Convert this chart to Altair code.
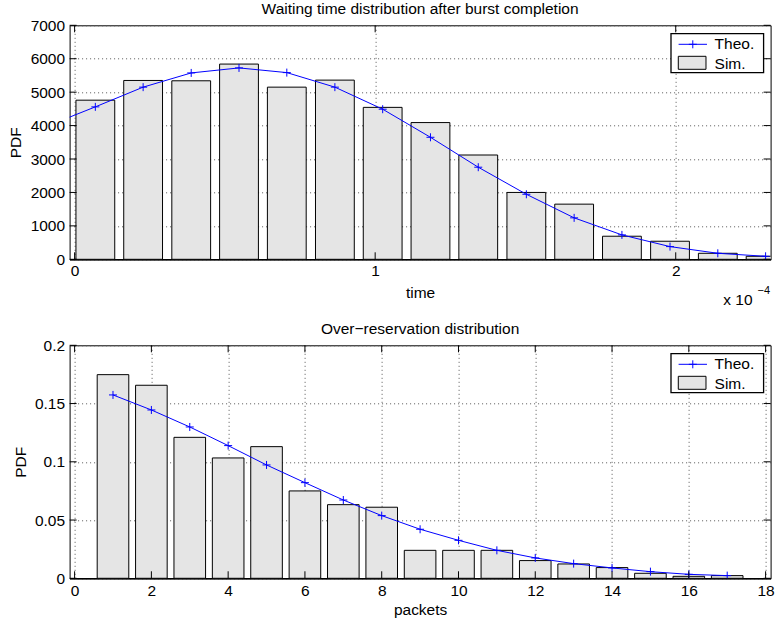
import altair as alt
import pandas as pd

FONT = "Liberation Sans"
FS = 15.5
BLUE = "#0000ff"
BAR_FILL = "#e5e5e5"
PLUS = "M-1,0L1,0M0,-1L0,1"

# ---------------- panel 1 : waiting time ----------------
wait_title = ["Waiting time distribution after burst completion"]
wait_xlabel = "time"
wait_ylabel = "PDF"
wait_bin_centers = [0.069e-4, 0.228e-4, 0.388e-4, 0.547e-4, 0.706e-4, 0.866e-4,
                    1.025e-4, 1.184e-4, 1.343e-4, 1.503e-4, 1.662e-4, 1.821e-4,
                    1.981e-4, 2.140e-4, 2.299e-4]
wait_sim = [4760, 5350, 5340, 5840, 5150, 5360, 4545, 4090, 3120, 2000,
            1650, 690, 540, 180, 90]
wait_theo_x = [-0.090e-4] + wait_bin_centers
wait_theo = [3990, 4560, 5150, 5575, 5725, 5585, 5150, 4490, 3650, 2755,
             1945, 1240, 730, 380, 180, 90]
wait_xdomain = [0, 2.299e-4]
wait_ydomain = [0, 7000]
wait_xticks = [0, 1e-4, 2e-4]
wait_yticks = [0, 1000, 2000, 3000, 4000, 5000, 6000, 7000]
wait_exp_base = ["x 10"]
wait_exp = ["\u22124"]

# ---------------- panel 2 : over-reservation ----------------
res_title = ["Over\u2212reservation distribution"]
res_xlabel = "packets"
res_ylabel = "PDF"
res_packets = [1, 2, 3, 4, 5, 6, 7, 8, 9, 10, 11, 12, 13, 14, 15, 16, 17]
res_sim = [0.1748, 0.1657, 0.1210, 0.1033, 0.1130, 0.0750, 0.0632, 0.0610,
           0.0240, 0.0240, 0.0240, 0.0152, 0.0123, 0.0092, 0.0043, 0.0017, 0.0023]
res_theo = [0.1574, 0.1445, 0.1299, 0.1139, 0.0973, 0.0821, 0.0672, 0.0538,
            0.0421, 0.0326, 0.0240, 0.0175, 0.0126, 0.0089, 0.0057, 0.0034, 0.0023]
res_xdomain = [0, 18]
res_ydomain = [0, 0.2]
res_xticks = [0, 2, 4, 6, 8, 10, 12, 14, 16, 18]
res_yticks = [0, 0.05, 0.1, 0.15, 0.2]

legend_labels = ["Theo.", "Sim."]


def panel(W, H, bx, by, lx, ly, xdom, ydom, xticks, yticks, title, xlabel, ylabel,
          xtitle_y, ytitle_x, xlab_pad, bar_size, xlabel_expr, yformat, extra=None):
    xs = alt.Scale(domain=xdom, nice=False, zero=False)
    ys = alt.Scale(domain=ydom, nice=False, zero=False)
    common = dict(grid=True, gridDash=[1, 3], gridColor="#555555", gridWidth=1,
                  ticks=False, tickSize=0, labelFontSize=FS, titleFontSize=FS,
                  titleFontWeight="normal", labelColor="black", titleColor="black",
                  labelFont=FONT, titleFont=FONT, titleBaseline="alphabetic")
    xaxis = alt.Axis(values=xticks, labelExpr=xlabel_expr, title=xlabel, titleY=xtitle_y,
                     labelPadding=xlab_pad, domain=True, domainColor="black",
                     domainWidth=1.5, **common)
    yaxis = alt.Axis(values=yticks, format=yformat, title=ylabel, titleX=ytitle_x,
                     labelPadding=5, domain=False, **common)

    def X(f="x"):
        return alt.X(f + ":Q", scale=xs, axis=xaxis)

    def Y(f="y"):
        return alt.Y(f + ":Q", scale=ys, axis=yaxis)

    bars_df = pd.DataFrame({"x": bx, "y": by})
    line_df = pd.DataFrame({"x": lx, "y": ly})
    xt_df = pd.DataFrame({"x": xticks})
    yt_df = pd.DataFrame({"y": yticks})
    lg = pd.DataFrame({"label": legend_labels})

    bars = alt.Chart(bars_df).mark_bar(size=bar_size, fill=BAR_FILL, stroke="black",
                                       strokeWidth=1, clip=True).encode(x=X(), y=Y())
    line = alt.Chart(line_df).mark_line(color=BLUE, strokeWidth=1, clip=True).encode(
        x=X(), y=Y())
    pts = alt.Chart(line_df).mark_point(shape=PLUS, size=64, filled=False, color=BLUE,
                                        strokeWidth=1, opacity=1, clip=True).encode(
        x=X(), y=Y())

    tick_l = alt.Chart(yt_df).mark_rule(color="black", strokeWidth=1).encode(
        y=Y(), x=alt.value(0), x2=alt.value(7))
    tick_r = alt.Chart(yt_df).mark_rule(color="black", strokeWidth=1).encode(
        y=Y(), x=alt.value(W - 7), x2=alt.value(W))
    tick_b = alt.Chart(xt_df).mark_rule(color="black", strokeWidth=1).encode(
        x=X(), y=alt.value(H - 7), y2=alt.value(H))
    tick_t = alt.Chart(xt_df).mark_rule(color="black", strokeWidth=1).encode(
        x=X(), y=alt.value(0), y2=alt.value(7))

    one = lg.iloc[[0]]
    two = lg.iloc[[1]]
    box = alt.Chart(one).mark_rect(fill="white", stroke="black", strokeWidth=1.3).encode(
        x=alt.value(W - 99.6), x2=alt.value(W - 7), y=alt.value(8.4), y2=alt.value(47.4))
    lline = alt.Chart(one).mark_rule(color=BLUE, strokeWidth=1).encode(
        x=alt.value(W - 92), x2=alt.value(W - 63.6), y=alt.value(19))
    lplus = alt.Chart(one).mark_point(shape=PLUS, size=64, filled=False, color=BLUE,
                                      strokeWidth=1, opacity=1).encode(
        x=alt.value(W - 77.8), y=alt.value(19))
    lrect = alt.Chart(two).mark_rect(fill=BAR_FILL, stroke="black", strokeWidth=1).encode(
        x=alt.value(W - 92.3), x2=alt.value(W - 64.6), y=alt.value(31), y2=alt.value(44))
    ltext1 = alt.Chart(one).mark_text(align="left", baseline="middle", font=FONT,
                                      fontSize=FS, color="black").encode(
        text="label:N", x=alt.value(W - 56), y=alt.value(19))
    ltext2 = alt.Chart(two).mark_text(align="left", baseline="middle", font=FONT,
                                      fontSize=FS, color="black").encode(
        text="label:N", x=alt.value(W - 56), y=alt.value(38.4))

    ttl = alt.Chart(pd.DataFrame({"t": title})).mark_text(
        align="center", baseline="alphabetic", font=FONT, fontSize=FS, color="black").encode(
        text="t:N", x=alt.value(W / 2), y=alt.value(-11))

    layers = [bars, line, pts, tick_l, tick_r, tick_b, tick_t,
              box, lline, lplus, lrect, ltext1, ltext2, ttl]
    if extra:
        layers += extra
    return alt.layer(*layers).properties(width=W, height=H)


W = 701
exp_layers = [
    alt.Chart(pd.DataFrame({"t": wait_exp_base})).mark_text(
        align="right", baseline="alphabetic", font=FONT, fontSize=FS, color="black").encode(
        text="t:N", x=alt.value(683), y=alt.value(280)),
    alt.Chart(pd.DataFrame({"t": wait_exp})).mark_text(
        align="left", baseline="alphabetic", font=FONT, fontSize=11, color="black").encode(
        text="t:N", x=alt.value(688), y=alt.value(269)),
]

top = panel(W, 234, wait_bin_centers, wait_sim, wait_theo_x, wait_theo,
            wait_xdomain, wait_ydomain, wait_xticks, wait_yticks,
            wait_title, wait_xlabel, wait_ylabel,
            xtitle_y=38, ytitle_x=-49.3, xlab_pad=4.5, bar_size=38.8,
            xlabel_expr="format(datum.value*10000, 'd')", yformat="d", extra=exp_layers)

bottom = panel(W, 233, res_packets, res_sim, res_packets, res_theo,
               res_xdomain, res_ydomain, res_xticks, res_yticks,
               res_title, res_xlabel, res_ylabel,
               xtitle_y=36, ytitle_x=-44.3, xlab_pad=5.5, bar_size=31.6,
               xlabel_expr="format(datum.value, 'd')", yformat="~g")

chart = alt.vconcat(top, bottom, spacing=86, bounds="flush",
                    padding={"left": 7.6, "top": 1.3, "right": 0, "bottom": 0}).configure(
    font=FONT, background="white").configure_view(stroke="black", strokeWidth=1)

chart.save("out.html", embed_options={"renderer": "svg", "actions": False})
